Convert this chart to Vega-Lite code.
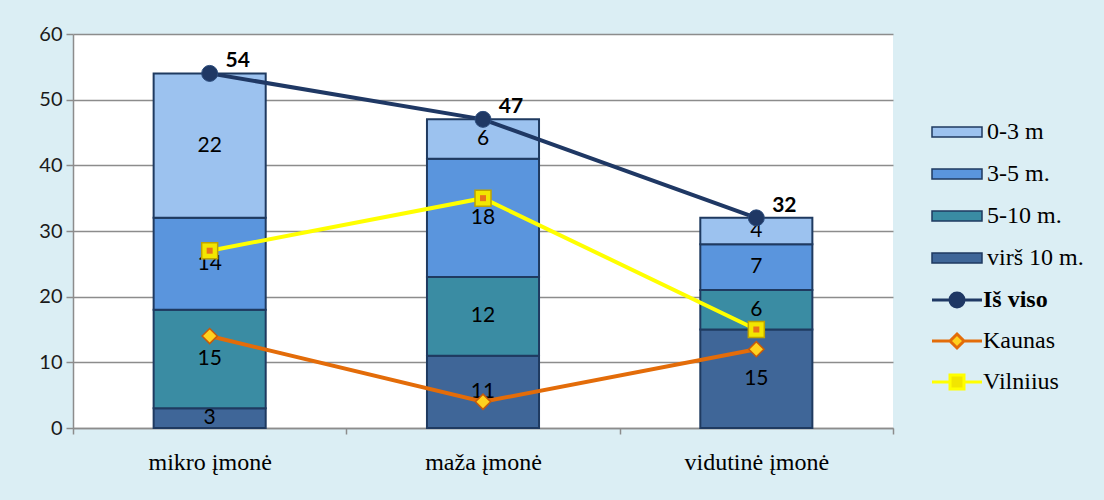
{
  "$schema": "https://vega.github.io/schema/vega-lite/v6.json",
  "autosize": {"type": "none"},
  "width": 820,
  "height": 394,
  "padding": {"left": 73, "top": 34, "right": 211, "bottom": 72},
  "background": "#DBEEF4",
  "config": {
    "view": {"fill": "#FFFFFF", "stroke": null},
    "axisY": {"grid": true, "gridColor": "#8C8C8C", "gridWidth": 1.5, "domainColor": "#8C8C8C", "domainWidth": 1.5, "tickColor": "#8C8C8C", "tickSize": 7, "tickWidth": 1.5, "tickCount": 6, "labelFont": "Lato", "labelFontSize": 20, "labelColor": "#1A1A1A", "labelPadding": 4},
    "axisX": {"grid": false, "domainColor": "#8C8C8C", "domainWidth": 1.5, "tickColor": "#8C8C8C", "tickSize": 6, "tickWidth": 1.5, "tickBand": "extent", "labelFont": "Liberation Serif", "labelFontSize": 24, "labelColor": "#000000", "labelPadding": 16, "labelAngle": 0}
  },
  "datasets": {
    "bars": [
      {"cat": "mikro įmonė", "g": "virš 10 m.", "v": 3},
      {"cat": "mikro įmonė", "g": "5-10 m.", "v": 15},
      {"cat": "mikro įmonė", "g": "3-5 m.", "v": 14},
      {"cat": "mikro įmonė", "g": "0-3 m", "v": 22},
      {"cat": "maža įmonė", "g": "virš 10 m.", "v": 11},
      {"cat": "maža įmonė", "g": "5-10 m.", "v": 12},
      {"cat": "maža įmonė", "g": "3-5 m.", "v": 18},
      {"cat": "maža įmonė", "g": "0-3 m", "v": 6},
      {"cat": "vidutinė įmonė", "g": "virš 10 m.", "v": 15},
      {"cat": "vidutinė įmonė", "g": "5-10 m.", "v": 6},
      {"cat": "vidutinė įmonė", "g": "3-5 m.", "v": 7},
      {"cat": "vidutinė įmonė", "g": "0-3 m", "v": 4}
    ],
    "lines": [
      {"cat": "mikro įmonė", "s": "Iš viso", "v": 54},
      {"cat": "maža įmonė", "s": "Iš viso", "v": 47},
      {"cat": "vidutinė įmonė", "s": "Iš viso", "v": 32},
      {"cat": "mikro įmonė", "s": "Kaunas", "v": 14},
      {"cat": "maža įmonė", "s": "Kaunas", "v": 4},
      {"cat": "vidutinė įmonė", "s": "Kaunas", "v": 12},
      {"cat": "mikro įmonė", "s": "Vilniius", "v": 27},
      {"cat": "maža įmonė", "s": "Vilniius", "v": 35},
      {"cat": "vidutinė įmonė", "s": "Vilniius", "v": 15}
    ]
  },
  "encoding": {
    "x": {"field": "cat", "type": "nominal", "sort": ["mikro įmonė", "maža įmonė", "vidutinė įmonė"], "scale": {"paddingInner": 0, "paddingOuter": 0}, "title": null}
  },
  "layer": [
    {
      "data": {"name": "bars"},
      "mark": {"type": "bar", "width": {"band": 0.41}, "stroke": "#1F3A60", "strokeWidth": 2},
      "encoding": {
        "y": {"field": "v", "type": "quantitative", "scale": {"domain": [0, 60], "nice": false}, "title": null},
        "fill": {"field": "g", "type": "nominal",
          "scale": {"domain": ["0-3 m", "3-5 m.", "5-10 m.", "virš 10 m."], "range": ["#9CC2EF", "#5A95DD", "#3A8CA3", "#3F6698"]},
          "legend": {"orient": "none", "legendX": 872, "legendY": 86, "title": null, "symbolType": "M-2.5,-0.5H2.5V0.5H-2.5Z", "symbolSize": 400, "symbolStrokeColor": "#1F3A60", "symbolStrokeWidth": 1.5, "rowPadding": 18, "labelOffset": 18, "labelFont": "Liberation Serif", "labelFontSize": 24, "labelColor": "#000000", "padding": 0, "labelLimit": 300}},
        "order": {"field": "g", "sort": "descending"}
      }
    },
    {
      "data": {"name": "bars"},
      "transform": [
        {"stack": "v", "groupby": ["cat"], "sort": [{"field": "g", "order": "descending"}], "as": ["y0", "y1"]},
        {"calculate": "(datum.y0 + datum.y1) / 2", "as": "mid"}
      ],
      "mark": {"type": "text", "font": "Lato", "fontSize": 21, "color": "#000000", "baseline": "middle", "align": "center"},
      "encoding": {
        "y": {"field": "mid", "type": "quantitative", "title": null},
        "text": {"field": "v", "type": "quantitative"}
      }
    },
    {
      "data": {"name": "lines"},
      "mark": {"type": "line", "strokeWidth": 4},
      "encoding": {
        "y": {"field": "v", "type": "quantitative", "title": null},
        "stroke": {"field": "s", "type": "nominal",
          "scale": {"domain": ["Iš viso", "Kaunas", "Vilniius"], "range": ["#1F3864", "#E36C09", "#FFFF00"]},
          "legend": {"orient": "none", "legendX": 872, "legendY": 254, "title": null, "symbolSize": 400, "symbolStrokeWidth": 3, "rowPadding": 15, "labelOffset": 14, "labelFont": "Liberation Serif", "labelFontSize": 24, "labelColor": "#000000", "padding": 0, "labelLimit": 300,
            "encode": {
              "symbols": {"update": {
                "shape": {"signal": "datum.value === 'Iš viso' ? 'M-2.5,0H-0.7M0.7,0H2.5M0.7,0A0.7,0.7 0 1,1 -0.7,0A0.7,0.7 0 1,1 0.7,0Z' : datum.value === 'Kaunas' ? 'M-2.5,0H-0.7M0.7,0H2.5M0,-0.7L0.7,0L0,0.7L-0.7,0Z' : 'M-2.5,0H-0.7M0.7,0H2.5M-0.7,-0.7H0.7V0.7H-0.7Z'"},
                "fill": {"signal": "datum.value === 'Iš viso' ? '#1F3864' : datum.value === 'Kaunas' ? '#FFD21F' : '#F2E600'"},
                "stroke": {"signal": "datum.value === 'Iš viso' ? '#1F3864' : datum.value === 'Kaunas' ? '#E36C09' : '#FFFF00'"}
              }},
              "labels": {"update": {"fontWeight": {"signal": "datum.value === 'Iš viso' ? 'bold' : 'normal'"}}}
            }}
        }
      }
    },
    {
      "data": {"name": "lines"},
      "transform": [{"filter": "datum.s === 'Iš viso'"}],
      "mark": {"type": "point", "shape": "circle", "filled": true, "fill": "#1F3864", "stroke": "#2C4C7C", "strokeWidth": 1, "size": 256, "opacity": 1},
      "encoding": {"y": {"field": "v", "type": "quantitative", "title": null}}
    },
    {
      "data": {"name": "lines"},
      "transform": [{"filter": "datum.s === 'Kaunas'"}],
      "mark": {"type": "point", "shape": "diamond", "filled": true, "fill": "#FFD21F", "stroke": "#C75A0A", "strokeWidth": 1.5, "size": 230, "opacity": 1},
      "encoding": {"y": {"field": "v", "type": "quantitative", "title": null}}
    },
    {
      "data": {"name": "lines"},
      "transform": [{"filter": "datum.s === 'Vilniius'"}],
      "mark": {"type": "point", "shape": "square", "filled": true, "fill": "#F2E600", "stroke": "#BFA300", "strokeWidth": 1.5, "size": 256, "opacity": 1},
      "encoding": {"y": {"field": "v", "type": "quantitative", "title": null}}
    },
    {
      "data": {"name": "lines"},
      "transform": [{"filter": "datum.s === 'Vilniius'"}],
      "mark": {"type": "point", "shape": "square", "filled": true, "fill": "#E8731A", "strokeWidth": 0, "size": 36, "opacity": 1},
      "encoding": {"y": {"field": "v", "type": "quantitative", "title": null}}
    },
    {
      "data": {"name": "lines"},
      "transform": [{"filter": "datum.s === 'Iš viso'"}],
      "mark": {"type": "text", "font": "Lato", "fontSize": 21, "fontWeight": "bold", "color": "#000000", "dx": 28, "dy": -12, "align": "center", "baseline": "middle"},
      "encoding": {
        "y": {"field": "v", "type": "quantitative", "title": null},
        "text": {"field": "v", "type": "quantitative"}
      }
    }
  ]
}
